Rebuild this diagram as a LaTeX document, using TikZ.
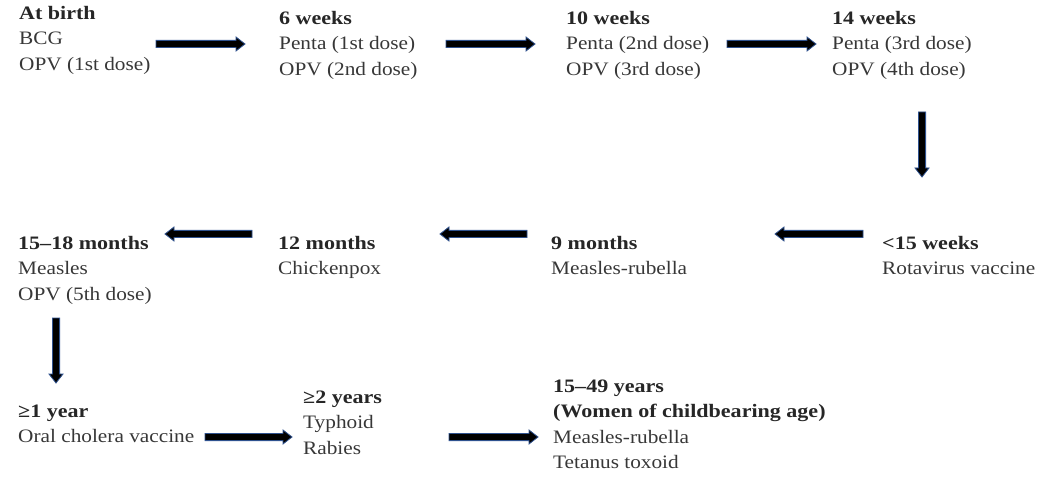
\documentclass[tikz,border=0pt]{standalone}
\usepackage{fontspec}
\setmainfont{Liberation Serif}[FakeStretch=1.12,BoldFeatures={FakeStretch=1.16}]
\usetikzlibrary{calc}
\definecolor{txt}{RGB}{55,55,55}
\definecolor{arrowblue}{RGB}{47,82,143}
\tikzset{
  blk/.style={anchor=north west, inner sep=0pt, align=left, text=txt,
    font=\fontsize{19}{25.5}\selectfont},
  blockarrow/.style={draw=arrowblue, fill=black, line width=0.8pt, line join=miter,
    to path={
      ($(\tikztostart)!3.6pt!90:(\tikztotarget)$) --
      ($(\tikztotarget)!9pt!(\tikztostart)!3.6pt!-90:(\tikztostart)$) --
      ($(\tikztotarget)!9pt!(\tikztostart)!7pt!-90:(\tikztostart)$) --
      (\tikztotarget) --
      ($(\tikztotarget)!9pt!(\tikztostart)!7pt!90:(\tikztostart)$) --
      ($(\tikztotarget)!9pt!(\tikztostart)!3.6pt!90:(\tikztostart)$) --
      ($(\tikztostart)!3.6pt!-90:(\tikztotarget)$) -- cycle
    }}
}
\newcommand{\hd}[1]{\textbf{\color{black!85}#1}}
\newcommand{\st}{\rule{0pt}{15pt}}
\begin{document}
\begin{tikzpicture}[x=1pt,y=-1pt]
\useasboundingbox (0,0) rectangle (1038,486);
% row 1
\node[blk] (birth) at (19,19-15) {\st\hd{At birth}\\BCG\\OPV (1st dose)};
\node[blk] (w6) at (279,24-15) {\st\hd{6 weeks}\\Penta (1st dose)\\OPV (2nd dose)};
\node[blk] (w10) at (566,24-15) {\st\hd{10 weeks}\\Penta (2nd dose)\\OPV (3rd dose)};
\node[blk] (w14) at (832,24-15) {\st\hd{14 weeks}\\Penta (3rd dose)\\OPV (4th dose)};
% row 2
\node[blk] (m15) at (18,249-15) {\st\hd{15–18 months}\\Measles\\OPV (5th dose)};
\node[blk] (m12) at (278,249-15) {\st\hd{12 months}\\Chickenpox};
\node[blk] (m9) at (551,249-15) {\st\hd{9 months}\\Measles-rubella};
\node[blk] (w15) at (882,249-15) {\st\hd{<15 weeks}\\Rotavirus vaccine};
% row 3
\node[blk] (y1) at (18,417-15) {\st\hd{≥1 year}\\Oral cholera vaccine};
\node[blk] (y2) at (303,403-15) {\st\hd{≥2 years}\\Typhoid\\Rabies};
\node[blk] (y15) at (553,392-15) {\st\hd{15–49 years}\\\hd{(Women of childbearing age)}\\Measles-rubella\\Tetanus toxoid};
% arrow end points
\coordinate (a1s) at (156,44); \coordinate (a1e) at (245,44);
\coordinate (a2s) at (446,44); \coordinate (a2e) at (535,44);
\coordinate (a3s) at (727,44); \coordinate (a3e) at (816,44);
\coordinate (d1s) at (922,112); \coordinate (d1e) at (922,177);
\coordinate (b1s) at (863,234); \coordinate (b1e) at (775,234);
\coordinate (b2s) at (527,234); \coordinate (b2e) at (440,234);
\coordinate (b3s) at (252,234); \coordinate (b3e) at (165,234);
\coordinate (d2s) at (56,318); \coordinate (d2e) at (56,383);
\coordinate (c1s) at (205,437); \coordinate (c1e) at (292,437);
\coordinate (c2s) at (449,437); \coordinate (c2e) at (538,437);
\foreach \s/\e in {a1s/a1e,a2s/a2e,a3s/a3e,d1s/d1e,b1s/b1e,b2s/b2e,b3s/b3e,d2s/d2e,c1s/c1e,c2s/c2e}
  \draw[blockarrow] (\s) to (\e);
\end{tikzpicture}
\end{document}
